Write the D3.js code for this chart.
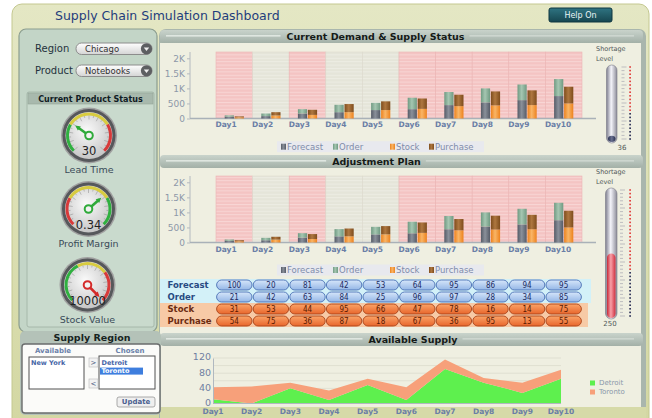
<!DOCTYPE html>
<html>
<head>
<meta charset="utf-8">
<script src="https://cdn.jsdelivr.net/npm/d3@7"></script>
<style>
  html, body { margin: 0; padding: 0; background: #fff; }
  svg { display: block; font-family: "DejaVu Sans", Verdana, sans-serif; }
</style>
</head>
<body>
<svg id="chart" width="652" height="418"></svg>
<script>
const days = ["Day1", "Day2", "Day3", "Day4", "Day5", "Day6", "Day7", "Day8", "Day9", "Day10"];
const dayStatus = ["short", "ok", "short", "ok", "ok", "short", "short", "short", "short", "short"];

// current demand & supply status
const forecastNow = [60, 80, 165, 210, 280, 310, 445, 535, 610, 745];
const orderNow = [45, 85, 145, 245, 240, 380, 435, 465, 520, 565];
const stockNow = [40, 100, 120, 210, 280, 320, 410, 435, 445, 500];
const purchaseNow = [30, 110, 170, 270, 290, 345, 380, 465, 490, 555];

// adjustment plan
const forecastPlan = [55, 75, 160, 205, 270, 305, 440, 530, 600, 740];
const orderPlan = [45, 80, 150, 240, 250, 385, 440, 470, 520, 580];
const stockPlan = [40, 95, 115, 205, 270, 320, 405, 430, 440, 500];
const purchasePlan = [35, 95, 165, 260, 275, 345, 375, 460, 480, 555];

const demandTicks = [0, 500, 1000, 1500, 2000];

const tableForecast = [100, 20, 81, 42, 53, 64, 95, 86, 94, 95];
const tableOrder = [21, 42, 63, 84, 25, 96, 97, 28, 34, 85];
const tableStock = [31, 53, 44, 95, 66, 47, 78, 16, 14, 75];
const tablePurchase = [54, 75, 36, 87, 18, 67, 36, 95, 13, 55];

// available supply
const supplyDetroit = [11, 0, 40, 9, 49, 9, 91, 55, 28, 65];
const supplyToronto = [32, 45, 15, 25, 16, 34, 25, 12, 27, 24];
const supplyTicks = [0, 40, 80, 120];

const shortageNow = 36;
const shortagePlan = 250;
const shortageMax = 500;
const shortageAlarm = 185;

const gaugeLabels = ["Lead Time", "Profit Margin", "Stock Value"];
const gaugeValues = [30, 0.34, 10000];
const gaugeText = ["30", "0.34", "10000"];
const gaugeMax = [100, 0.5, 10000];

const regionChoice = "Chicago";
const productChoice = "Notebooks";
const availableRegions = ["New York"];
const chosenRegions = ["Detroit", "Toronto"];

const svg = d3.select("#chart");
const defs = svg.append("defs");

function linGrad(id, stops, vertical) {
  const g = defs.append("linearGradient").attr("id", id)
    .attr("x1", 0).attr("y1", 0)
    .attr("x2", vertical ? 0 : 1).attr("y2", vertical ? 1 : 0);
  stops.forEach(s => g.append("stop").attr("offset", s[0]).attr("stop-color", s[1]));
}

linGrad("khaki", [[0, "#e4e7c4"], [1, "#d3d7a2"]], true);
linGrad("header", [[0, "#c9d3cb"], [0.5, "#b6c2ba"], [1, "#a3b0a7"]], true);
linGrad("helpBtn", [[0, "#2f7482"], [1, "#164650"]], true);
linGrad("drop", [[0, "#ffffff"], [1, "#d4d4d4"]], true);
linGrad("glass", [[0, "#7e7e8e"], [0.45, "#f4f4fa"], [1, "#8c8c98"]], false);
linGrad("redFill", [[0, "#c82838"], [0.45, "#f8a0a8"], [1, "#d03040"]], false);
linGrad("navyFill", [[0, "#283050"], [0.5, "#6a7090"], [1, "#283050"]], false);
linGrad("bluePill", [[0, "#d6e6fa"], [1, "#94b6e6"]], true);
linGrad("orangePill", [[0, "#fba468"], [1, "#e8662c"]], true);

const barColors = {
  forecast: ["#555b67", "#8a909a"],
  order: ["#6f9a82", "#a5c6b1"],
  stock: ["#ec821e", "#f9b566"],
  purchase: ["#7e4c1c", "#ae7740"]
};
Object.entries(barColors).forEach(([k, c]) =>
  linGrad("bar-" + k, [[0, c[0]], [0.45, c[1]], [1, c[0]]], false));

const face = defs.append("radialGradient").attr("id", "face").attr("cx", "45%").attr("cy", "40%").attr("r", "60%");
face.append("stop").attr("offset", 0).attr("stop-color", "#fafafa");
face.append("stop").attr("offset", 1).attr("stop-color", "#c6c6c6");

function stripePattern(id, base, line) {
  const p = defs.append("pattern").attr("id", id).attr("patternUnits", "userSpaceOnUse")
    .attr("width", 6).attr("height", 3.4);
  p.append("rect").attr("width", 6).attr("height", 3.4).attr("fill", base);
  p.append("rect").attr("width", 6).attr("height", 1).attr("fill", line);
}
stripePattern("stripePink", "#f4c4c3", "#f8d6d5");
stripePattern("stripeGray", "#e5e5d9", "#ededE4");

// ---------- frame ----------
svg.append("rect").attr("x", 12).attr("y", 4).attr("width", 637).attr("height", 430)
  .attr("rx", 10).attr("fill", "url(#khaki)").attr("stroke", "#c4c890");

svg.append("text").attr("x", 55).attr("y", 20).attr("font-size", 12.5)
  .attr("fill", "#1f3d7c").text("Supply Chain Simulation Dashboard");

svg.append("rect").attr("x", 549).attr("y", 8).attr("width", 63).attr("height", 14).attr("rx", 2)
  .attr("fill", "url(#helpBtn)").attr("stroke", "#0e3640");
svg.append("text").attr("x", 580.5).attr("y", 15.5).attr("text-anchor", "middle")
  .attr("dominant-baseline", "middle").attr("font-size", 8).attr("fill", "#e8f4f6").text("Help On");

// right panel
svg.append("rect").attr("x", 159).attr("y", 29).attr("width", 487).attr("height", 400).attr("rx", 7)
  .attr("fill", "#a9b6ad");
svg.append("rect").attr("x", 160).attr("y", 43).attr("width", 481).attr("height", 364)
  .attr("fill", "#efefe1");

function header(y0, h, title, cx) {
  const g = svg.append("g");
  g.append("rect").attr("x", 160).attr("y", y0).attr("width", 483).attr("height", h).attr("rx", 4)
    .attr("fill", "url(#header)");
  const t = g.append("text").attr("x", cx).attr("y", y0 + h / 2 + 0.5).attr("text-anchor", "middle")
    .attr("dominant-baseline", "middle").attr("font-size", 9.5).attr("font-weight", "bold")
    .attr("fill", "#151a18").text(title);
  const w = t.node().getComputedTextLength();
  g.append("rect").attr("x", 166).attr("y", y0 + h / 2 - 1.5).attr("width", cx - w / 2 - 172).attr("height", 1.6)
    .attr("fill", "#dfe6e0");
  g.append("rect").attr("x", cx + w / 2 + 5).attr("y", y0 + h / 2 - 1.5).attr("width", 634 - cx - w / 2 - 5).attr("height", 1.6)
    .attr("fill", "#cdd6cf");
}
header(30, 13, "Current Demand & Supply Status", 375.5);
header(155, 13, "Adjustment Plan", 376.5);
header(333, 13, "Available Supply", 413);

// bottom strip below supply chart
svg.append("rect").attr("x", 160).attr("y", 407).attr("width", 486).attr("height", 12).attr("fill", "#d6daa8");

// ---------- demand charts ----------
const x = d3.scaleBand().domain(days).range([216, 582]).padding(0);
const kFormat = d => d >= 1000 ? (d / 1000) + "K" : d;

function drawDemand(o, series) {
  const g = svg.append("g");
  const y = d3.scaleLinear().domain([0, 2000]).range([o.base, o.base - 60.2]);

  g.selectAll(".band").data(days).join("rect")
    .attr("x", d => x(d)).attr("y", o.bandTop)
    .attr("width", x.bandwidth()).attr("height", o.base - o.bandTop)
    .attr("fill", (d, i) => dayStatus[i] === "short" ? "url(#stripePink)" : "url(#stripeGray)")
    .attr("stroke", (d, i) => dayStatus[i] === "short" ? "#ebb4b4" : "#dcdace").attr("stroke-width", 0.6);

  const yAxis = g.append("g").attr("transform", "translate(190,0)")
    .call(d3.axisLeft(y).tickValues(demandTicks).tickFormat(kFormat).tickSize(3).tickPadding(2));
  yAxis.select(".domain").attr("stroke", "#b4bac0").attr("d", `M0,${o.bandTop}V${o.base}`);
  yAxis.selectAll(".tick line").attr("stroke", "#b4bac0");
  yAxis.selectAll(".tick text").attr("font-size", 9).attr("fill", "#8d98a8")
    .attr("font-family", "DejaVu Sans, sans-serif");

  g.append("line").attr("x1", 190).attr("x2", 596).attr("y1", o.base).attr("y2", o.base)
    .attr("stroke", "#a9b1b8").attr("stroke-width", 1.5);

  const rows = days.map((d, i) => ({
    day: d,
    forecast: series.forecast[i], order: series.order[i],
    stock: series.stock[i], purchase: series.purchase[i]
  }));
  const left = d3.stack().keys(["forecast", "order"])(rows);
  const right = d3.stack().keys(["stock", "purchase"])(rows);
  const cx = d => x(d) + x.bandwidth() / 2;

  [[left, -9.6], [right, 0.4]].forEach(([stack, off]) => {
    g.selectAll(null).data(stack).join("g")
      .attr("fill", s => "url(#bar-" + s.key + ")")
      .selectAll("rect").data(s => s).join("rect")
      .attr("x", d => cx(d.data.day) + off).attr("width", 9.2)
      .attr("y", d => y(d[1])).attr("height", d => y(d[0]) - y(d[1]));
  });

  g.selectAll(".day").data(days).join("text")
    .attr("x", d => x(d) - 0.5).attr("y", o.dayY).attr("dominant-baseline", "middle")
    .attr("font-size", 7.5).attr("font-weight", "bold").attr("fill", "#6a7ea6").text(d => d);

  // legend
  g.append("rect").attr("x", 277).attr("y", o.legendY - 5.5).attr("width", 207).attr("height", 11)
    .attr("fill", "#e8e9ee");
  const items = [["forecast", "Forecast", 281], ["order", "Order", 333], ["stock", "Stock", 390], ["purchase", "Purchase", 429]];
  items.forEach(([k, label, lx]) => {
    g.append("rect").attr("x", lx).attr("y", o.legendY - 3).attr("width", 5).attr("height", 6)
      .attr("fill", "url(#bar-" + k + ")");
    g.append("text").attr("x", lx + 6).attr("y", o.legendY + 0.5).attr("dominant-baseline", "middle")
      .attr("font-size", 8.5).attr("fill", "#7f8cab").text(label);
  });
}

drawDemand({ base: 118.5, bandTop: 52, dayY: 125, legendY: 146.7 },
  { forecast: forecastNow, order: orderNow, stock: stockNow, purchase: purchaseNow });
drawDemand({ base: 242.5, bandTop: 176, dayY: 249.5, legendY: 270 },
  { forecast: forecastPlan, order: orderPlan, stock: stockPlan, purchase: purchasePlan });

// ---------- thermometers ----------
function thermo(o, value) {
  const g = svg.append("g");
  const t = d3.scaleLinear().domain([0, shortageMax]).range([o.bottom, o.top]);
  g.append("text").attr("x", 596).attr("y", o.labelY).attr("font-size", 6.5).attr("fill", "#505858").text("Shortage");
  g.append("text").attr("x", 596).attr("y", o.labelY + 9.5).attr("font-size", 6.5).attr("fill", "#505858").text("Level");

  g.append("rect").attr("x", o.x).attr("y", o.top - 2).attr("width", o.w).attr("height", o.bottom - o.top + 4)
    .attr("rx", o.w / 2).attr("fill", "url(#glass)").attr("stroke", "#7a7a88").attr("stroke-width", 0.6);
  g.append("rect").attr("x", o.x + 1.5).attr("y", t(value)).attr("width", o.w - 3).attr("height", o.bottom - t(value) + 1)
    .attr("rx", (o.w - 3) / 2).attr("fill", o.fill);

  const marks = d3.range(o.top, o.bottom + 0.1, 3.6);
  g.selectAll(".tk").data(marks).join("line")
    .attr("x1", o.tickX).attr("x2", (d, i) => o.tickX + (i % 5 === 0 ? 5 : 3))
    .attr("y1", d => d).attr("y2", d => d).attr("stroke", "#9a9aa8").attr("stroke-width", 0.6);
  g.selectAll(".dot").data(marks).join("rect")
    .attr("x", 629.3).attr("y", d => d - 0.8).attr("width", 1.6).attr("height", 1.6)
    .attr("fill", d => t.invert(d) > shortageAlarm ? "#e03434" : "#222650");

  g.append("text").attr("x", o.valueX).attr("y", o.bottom + 7).attr("text-anchor", "middle")
    .attr("dominant-baseline", "middle").attr("font-size", 7).attr("fill", "#505858").text(value);
}
thermo({ x: 606.5, w: 10.5, top: 67, bottom: 141, tickX: 621.5, labelY: 51, valueX: 622, fill: "url(#navyFill)" }, shortageNow);
thermo({ x: 605.5, w: 11.5, top: 190, bottom: 317, tickX: 620, labelY: 174, valueX: 610, fill: "url(#redFill)" }, shortagePlan);

// ---------- table ----------
const tableRows = [
  ["Forecast", tableForecast, "blue"],
  ["Order", tableOrder, "blue"],
  ["Stock", tableStock, "orange"],
  ["Purchase", tablePurchase, "orange"]
];
svg.append("rect").attr("x", 160).attr("y", 279).attr("width", 431).attr("height", 24).attr("fill", "#d3f1f8");
svg.append("rect").attr("x", 160).attr("y", 303).attr("width", 428).attr("height", 24).attr("fill", "#f7caa6");
tableRows.forEach(([label, vals, tone], r) => {
  const cy = 285 + r * 12;
  const g = svg.append("g");
  g.append("text").attr("x", 167.5).attr("y", cy + 0.5).attr("dominant-baseline", "middle")
    .attr("font-size", 8.5).attr("font-weight", "bold")
    .attr("fill", tone === "blue" ? "#274a82" : "#6b2c12").text(label);
  const cells = g.selectAll("g").data(days).join("g");
  cells.append("rect").attr("x", d => x(d) + 0.6).attr("y", cy - 5).attr("width", x.bandwidth() - 1.2).attr("height", 10)
    .attr("rx", 5).attr("fill", tone === "blue" ? "url(#bluePill)" : "url(#orangePill)")
    .attr("stroke", tone === "blue" ? "#4a70b4" : "#a9441a").attr("stroke-width", 0.9);
  cells.append("text").attr("x", d => x(d) + x.bandwidth() / 2).attr("y", cy + 0.5)
    .attr("text-anchor", "middle").attr("dominant-baseline", "middle")
    .attr("font-size", 8).attr("font-family", "DejaVu Sans Condensed, DejaVu Sans, sans-serif")
    .attr("fill", tone === "blue" ? "#1c2a62" : "#5a1a02").text((d, i) => vals[i]);
});

// ---------- available supply ----------
{
  const g = svg.append("g");
  const px = d3.scalePoint().domain(days).range([213, 561]);
  const y = d3.scaleLinear().domain([0, 120]).range([403.5, 358]);

  g.selectAll(".grid").data(d3.range(20, 121, 20)).join("line")
    .attr("x1", 213).attr("x2", 561).attr("y1", d => y(d)).attr("y2", d => y(d))
    .attr("stroke", "#dcdccd").attr("stroke-width", 0.8);

  const rows = days.map((d, i) => ({ day: d, Detroit: supplyDetroit[i], Toronto: supplyToronto[i] }));
  const stack = d3.stack().keys(["Detroit", "Toronto"])(rows);
  const area = d3.area().x(d => px(d.data.day)).y0(d => y(d[0])).y1(d => y(d[1]));
  const areaColors = { Detroit: "#5ef04e", Toronto: "#f7a07a" };
  g.selectAll(".area").data(stack).join("path")
    .attr("d", area).attr("fill", s => areaColors[s.key]);

  const yAxis = g.append("g").attr("transform", "translate(213,0)")
    .call(d3.axisLeft(y).tickValues(supplyTicks).tickSize(0).tickPadding(2));
  yAxis.select(".domain").attr("stroke", "#b0b8c0");
  yAxis.selectAll(".tick text").attr("font-size", 9.5).attr("fill", "#6f7fa2").attr("dy", "0.2em")
    .attr("font-family", "DejaVu Sans, sans-serif");
  g.append("line").attr("x1", 213).attr("x2", 561).attr("y1", 403.5).attr("y2", 403.5)
    .attr("stroke", "#b0b8c0");

  g.selectAll(".day").data(days).join("text")
    .attr("x", d => px(d)).attr("y", 411.5).attr("text-anchor", "middle").attr("dominant-baseline", "middle")
    .attr("font-size", 7.5).attr("font-weight", "bold").attr("fill", "#6a7ea6").text(d => d);

  ["Detroit", "Toronto"].forEach((k, i) => {
    g.append("rect").attr("x", 590).attr("y", 380.5 + i * 9).attr("width", 5).attr("height", 5).attr("fill", areaColors[k]);
    g.append("text").attr("x", 599).attr("y", 383.5 + i * 9).attr("dominant-baseline", "middle")
      .attr("font-size", 7).attr("fill", "#8a98aa").text(k);
  });
}

// ---------- left panel ----------
svg.append("rect").attr("x", 19).attr("y", 29).attr("width", 138).attr("height", 303).attr("rx", 7)
  .attr("fill", "#c3d5c7").attr("stroke", "#8b9d8f").attr("stroke-width", 1.2);
svg.append("rect").attr("x", 27).attr("y", 92).attr("width", 127).attr("height", 235).attr("rx", 2)
  .attr("fill", "#c9dacd").attr("stroke", "#a6b8aa");

function dropdown(label, value, y0) {
  svg.append("text").attr("x", 35).attr("y", y0 + 6).attr("dominant-baseline", "middle")
    .attr("font-size", 10).attr("fill", "#23323c").text(label);
  svg.append("rect").attr("x", 76).attr("y", y0).attr("width", 76).attr("height", 11.5).attr("rx", 5.5)
    .attr("fill", "url(#drop)").attr("stroke", "#8c8c8c");
  svg.append("text").attr("x", 85).attr("y", y0 + 6.3).attr("dominant-baseline", "middle")
    .attr("font-size", 8.5).attr("fill", "#333").text(value);
  svg.append("circle").attr("cx", 146.5).attr("cy", y0 + 5.8).attr("r", 5.6).attr("fill", "#5d5f62");
  svg.append("path").attr("d", `M${143.8},${y0 + 4.5}L${149.2},${y0 + 4.5}L${146.5},${y0 + 8}Z`).attr("fill", "#f0f0f0");
}
dropdown("Region", regionChoice, 43);
dropdown("Product", productChoice, 65);

svg.append("rect").attr("x", 28).attr("y", 93).attr("width", 125).attr("height", 11)
  .attr("fill", "#a8b9ad").attr("stroke", "#93a597").attr("stroke-width", 0.6);
svg.append("text").attr("x", 90.5).attr("y", 99).attr("text-anchor", "middle").attr("dominant-baseline", "middle")
  .attr("font-size", 8).attr("font-weight", "bold").attr("fill", "#101c24").text("Current Product Status");

const zoneSets = [
  [[0, 0.28, "#30b040"], [0.28, 0.72, "#d8cc40"], [0.72, 1, "#d83a3a"]],
  [[0, 0.28, "#d83a3a"], [0.28, 0.72, "#d8cc40"], [0.72, 1, "#30b040"]],
  [[0, 0.4, "#30b040"], [0.4, 0.7, "#d8cc40"], [0.7, 1, "#d83a3a"]]
];
const needleColors = ["#2faa3a", "#2faa3a", "#d42a2a"];
const gaugeCenters = [[89, 135.5], [88.5, 209], [87.5, 285]];

gaugeValues.forEach((v, i) => {
  const [cx, cy] = gaugeCenters[i];
  const r = 27;
  const g = svg.append("g").attr("transform", `translate(${cx},${cy})`);
  const ang = d3.scaleLinear().domain([0, gaugeMax[i]]).range([-135, 135]).clamp(true);
  const rad = d => d * Math.PI / 180;

  g.append("circle").attr("r", r + 1).attr("fill", "#a0a0a0");
  g.append("circle").attr("r", r - 0.5).attr("fill", "#56585b");
  g.append("circle").attr("r", r - 3.5).attr("fill", "url(#face)");

  const arc = d3.arc().innerRadius(r - 7).outerRadius(r - 4);
  zoneSets[i].forEach(z => {
    g.append("path").attr("d", arc({ startAngle: rad(-135 + z[0] * 270), endAngle: rad(-135 + z[1] * 270) }))
      .attr("fill", z[2]);
  });
  d3.range(0, 1.001, 0.05).forEach(f => {
    const a = rad(-135 + f * 270);
    const r1 = r - 7, r2 = Math.round(f * 20) % 2 === 0 ? r - 11 : r - 9;
    g.append("line").attr("x1", r1 * Math.sin(a)).attr("y1", -r1 * Math.cos(a))
      .attr("x2", r2 * Math.sin(a)).attr("y2", -r2 * Math.cos(a)).attr("stroke", "#8a8a8a").attr("stroke-width", 0.5);
  });

  g.append("text").attr("y", 16).attr("text-anchor", "middle").attr("dominant-baseline", "middle")
    .attr("font-size", 11.5).attr("fill", "#222").text(gaugeText[i]);

  const a = rad(ang(v));
  const L = 17;
  const tipX = L * Math.sin(a), tipY = -L * Math.cos(a);
  g.append("line").attr("x1", 0).attr("y1", 0).attr("x2", tipX * 0.8).attr("y2", tipY * 0.8)
    .attr("stroke", needleColors[i]).attr("stroke-width", 2.6).attr("stroke-linecap", "round");
  const px = Math.cos(a) * 2.6, py = Math.sin(a) * 2.6;
  g.append("path").attr("d", `M${tipX},${tipY}L${tipX * 0.7 + px},${tipY * 0.7 + py}L${tipX * 0.7 - px},${tipY * 0.7 - py}Z`)
    .attr("fill", needleColors[i]);
  g.append("circle").attr("r", 3.8).attr("fill", "#f2f2f2").attr("stroke", needleColors[i]).attr("stroke-width", 2);

  svg.append("text").attr("x", cx).attr("y", cy + 35).attr("text-anchor", "middle").attr("dominant-baseline", "middle")
    .attr("font-size", 9.5).attr("fill", "#3a4a58").text(gaugeLabels[i]);
});

// ---------- supply region ----------
svg.append("rect").attr("x", 20).attr("y", 331).attr("width", 141).attr("height", 84).attr("rx", 5)
  .attr("fill", "#b4c2b8");
svg.append("text").attr("x", 92).attr("y", 338.5).attr("text-anchor", "middle").attr("dominant-baseline", "middle")
  .attr("font-size", 9.5).attr("font-weight", "bold").attr("fill", "#17231f").text("Supply Region");
svg.append("rect").attr("x", 22).attr("y", 344).attr("width", 138).attr("height", 69).attr("rx", 3)
  .attr("fill", "#fbfbf9").attr("stroke", "#6a6c6c").attr("stroke-width", 1.4);
svg.append("text").attr("x", 53).attr("y", 351).attr("text-anchor", "middle").attr("dominant-baseline", "middle")
  .attr("font-size", 7).attr("font-weight", "bold").attr("fill", "#6b81aa").text("Available");
svg.append("text").attr("x", 130).attr("y", 351).attr("text-anchor", "middle").attr("dominant-baseline", "middle")
  .attr("font-size", 7).attr("font-weight", "bold").attr("fill", "#6b81aa").text("Chosen");

svg.append("rect").attr("x", 29).attr("y", 357).attr("width", 55).attr("height", 32)
  .attr("fill", "#fff").attr("stroke", "#505050");
svg.append("rect").attr("x", 99).attr("y", 356).attr("width", 56).attr("height", 33)
  .attr("fill", "#fff").attr("stroke", "#505050");
svg.selectAll(".avail").data(availableRegions).join("text")
  .attr("x", 31).attr("y", (d, i) => 363 + i * 7).attr("dominant-baseline", "middle")
  .attr("font-size", 6.5).attr("font-weight", "bold").attr("fill", "#4464a6").text(d => d);
svg.append("rect").attr("x", 100).attr("y", 367.6).attr("width", 43).attr("height", 7).attr("fill", "#3e7ede");
svg.selectAll(".chosen").data(chosenRegions).join("text")
  .attr("x", 101.5).attr("y", (d, i) => 363.5 + i * 7.5).attr("dominant-baseline", "middle")
  .attr("font-size", 6.5).attr("font-weight", "bold")
  .attr("fill", (d, i) => i === chosenRegions.length - 1 ? "#ffffff" : "#4464a6").text(d => d);

[[">", 358], ["<", 379]].forEach(([s, by]) => {
  svg.append("rect").attr("x", 89).attr("y", by).attr("width", 9).attr("height", 9)
    .attr("fill", "#f2f2f2").attr("stroke", "#b8b8b8").attr("stroke-width", 0.6);
  svg.append("text").attr("x", 93.5).attr("y", by + 5).attr("text-anchor", "middle").attr("dominant-baseline", "middle")
    .attr("font-size", 7).attr("fill", "#4a5a80").text(s);
});
svg.append("rect").attr("x", 117).attr("y", 397).attr("width", 38).attr("height", 10).attr("rx", 2)
  .attr("fill", "#efefef").attr("stroke", "#8a8a8a").attr("stroke-width", 0.7);
svg.append("text").attr("x", 136).attr("y", 402.5).attr("text-anchor", "middle").attr("dominant-baseline", "middle")
  .attr("font-size", 7).attr("font-weight", "bold").attr("fill", "#4a6090").text("Update");
</script>
</body>
</html>
